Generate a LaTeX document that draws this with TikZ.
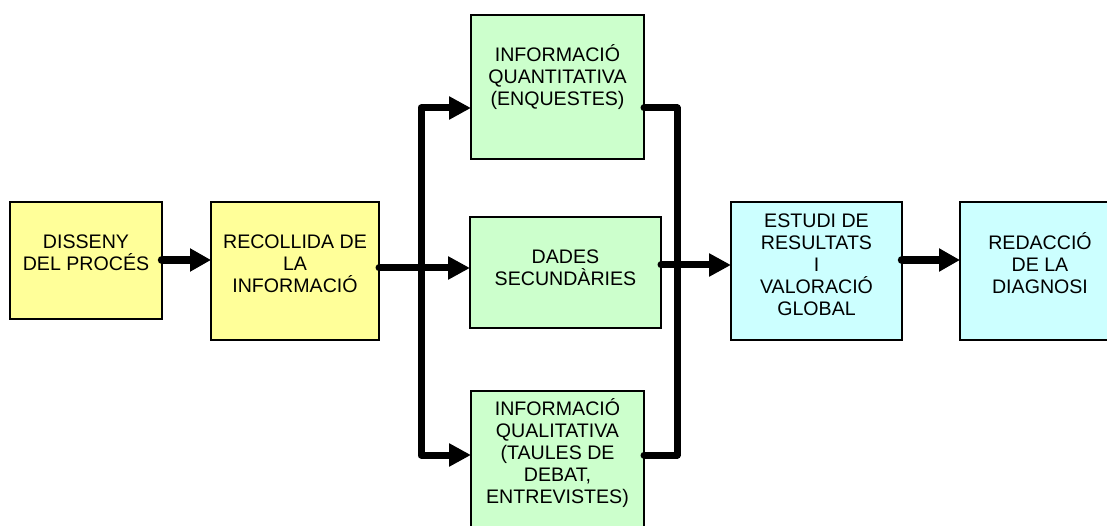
\documentclass[tikz,border=0pt]{standalone}
\usepackage{fontspec}
\setmainfont{Liberation Sans}
\usetikzlibrary{arrows.meta}
\definecolor{boxyellow}{HTML}{FFFF99}
\definecolor{boxgreen}{HTML}{CCFFCC}
\definecolor{boxcyan}{HTML}{CCFFFF}
\begin{document}
\begin{tikzpicture}[x=1pt,y=-1pt,
  box/.style={draw=black, line width=1.3pt, inner sep=0pt, outer sep=0pt},
  txt/.style={align=center, inner sep=0pt, anchor=base, font=\fontsize{19.6}{22}\selectfont},
  conn/.style={line width=7pt, line cap=round, line join=round},
  thick arrow/.style={line width=8.5pt, line cap=round, -{Triangle[length=21pt,width=22pt]}},
  branch arrow/.style={conn, -{Triangle[length=22pt,width=22pt]}}]
\useasboundingbox (0,0) rectangle (1107,526);
\clip (0,0) rectangle (1107,526);
\fill[white] (0,0) rectangle (1107,526);
% boxes
\node[box, fill=boxyellow, minimum width=152pt, minimum height=117pt] (b1) at (86,260.5) {};
\node[box, fill=boxyellow, minimum width=168pt, minimum height=138pt] (b2) at (295,271) {};
\node[box, fill=boxgreen, minimum width=173pt, minimum height=144pt] (q) at (557.5,87) {};
\node[box, fill=boxgreen, minimum width=191pt, minimum height=111pt] (d) at (565.5,272.5) {};
\node[box, fill=boxgreen, minimum width=173pt, minimum height=150pt] (ql) at (557.5,466) {};
\node[box, fill=boxcyan, minimum width=171pt, minimum height=138pt] (e) at (816.5,271) {};
\node[box, fill=boxcyan, minimum width=160pt, minimum height=138pt] (r) at (1040,271) {};
% texts (anchored at the baseline of their last line)
\node[txt] (t1) at (86,271) {DISSENY\\DEL PROCÉS};
\node[txt] (t2) at (295,293) {RECOLLIDA DE\\LA\\INFORMACIÓ};
\node[txt] (tq) at (557.5,106) {INFORMACIÓ\\QUANTITATIVA\\(ENQUESTES)};
\node[txt] (td) at (565.5,286) {DADES\\SECUNDÀRIES};
\node[txt] (tql) at (557.5,503.7) {INFORMACIÓ\\QUALITATIVA\\(TAULES DE\\DEBAT,\\ENTREVISTES)};
\node[txt] (te) at (816.5,315.3) {ESTUDI DE\\RESULTATS\\I\\VALORACIÓ\\GLOBAL};
\node[txt] (tr) at (1040,293.3) {REDACCIÓ\\DE LA\\DIAGNOSI};
% junction coordinates
\coordinate (jl) at (421,268);
\coordinate (jlt) at (421,108);
\coordinate (jlb) at (421,455);
\coordinate (jrt) at (677,108);
\coordinate (jrb) at (677,455);
\coordinate (jm) at (677,265);
\coordinate (ra) at (0,260);
% connectors
\draw[thick arrow] (b1.east |- ra) -- (b2.west |- ra);
\draw[branch arrow] (jl -| b2.east) -- (jl -| d.west);
\draw[branch arrow] (jl) -- (jlt) -- (jlt -| q.west);
\draw[branch arrow] (jl) -- (jlb) -- (jlb -| ql.west);
\draw[conn] (jrt -| q.east) -- (jrt) -- (jrb) -- (jrb -| ql.east);
\draw[branch arrow] (jm -| d.east) -- (jm -| e.west);
\draw[thick arrow] (e.east |- ra) -- (r.west |- ra);
\end{tikzpicture}
\end{document}
